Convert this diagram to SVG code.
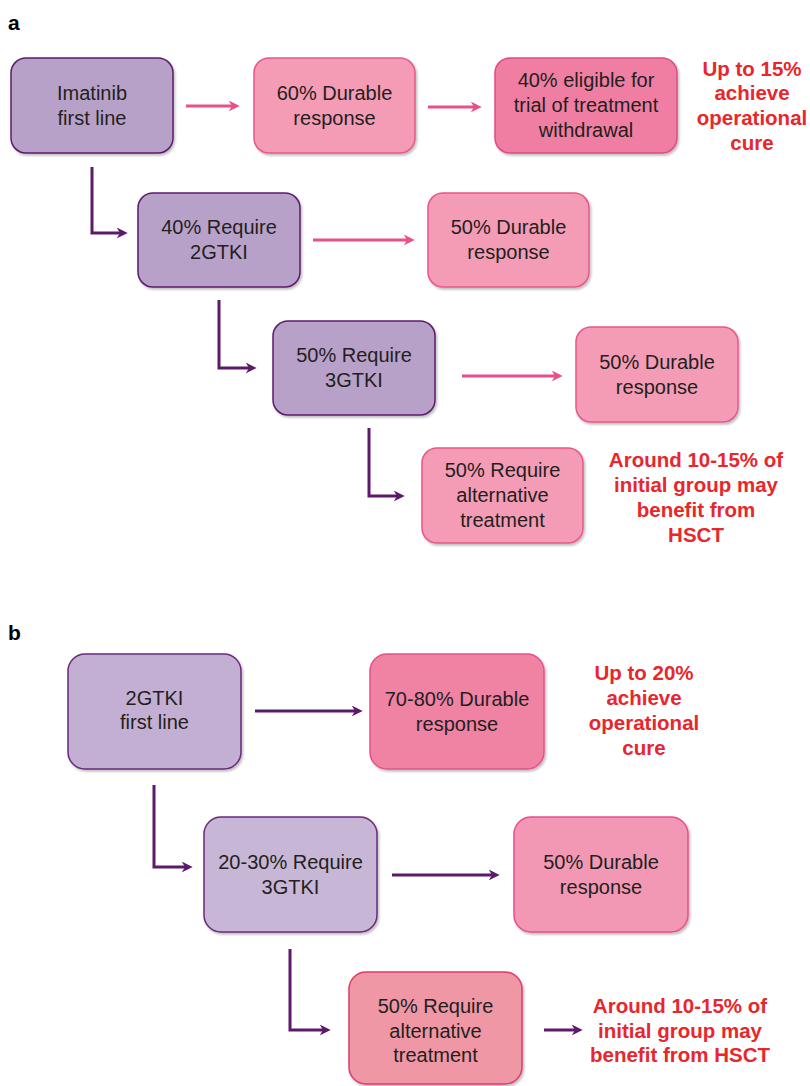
<svg xmlns="http://www.w3.org/2000/svg" width="810" height="1086" viewBox="0 0 810 1086">
<style>
.t{font-family:"Liberation Sans",Arial,sans-serif;font-size:20px;fill:#231f20;text-anchor:middle}
.r{font-family:"Liberation Sans",Arial,sans-serif;font-size:20.5px;font-weight:bold;fill:#e8262b;text-anchor:middle}
.lab{font-family:"Liberation Sans",Arial,sans-serif;font-size:21px;font-weight:bold;fill:#000}
.box{stroke-width:1.5;filter:url(#sh)}
.pa{fill:#b8a1c9;stroke:#5d1a6b}
.pb{fill:#c3afd3;stroke:#6b2a7a}
.pb2{fill:#c7b6d6;stroke:#6b2a7a}
.pk{fill:#f49bb6;stroke:#e8578b}
.dk{fill:#f07ea2;stroke:#e04c80}
.dk2{fill:#f082a4;stroke:#e8508a}
.pk2{fill:#f298b4;stroke:#e8508a}
.sal{fill:#f097a6;stroke:#df3a6e}
.ap{fill:none;stroke:#e8508a;stroke-width:3}
.au{fill:none;stroke:#5d1a6b;stroke-width:3}
</style>
<defs>
<filter id="sh" x="-10%" y="-10%" width="130%" height="130%">
<feDropShadow dx="1.5" dy="2" stdDeviation="1.2" flood-color="#000" flood-opacity="0.25"/>
</filter>
<marker id="mp" viewBox="0 0 10 10" markerWidth="11" markerHeight="11" markerUnits="userSpaceOnUse" refX="3" refY="5" orient="auto">
<path d="M0,0 L10,5 L0,10 L3,5 Z" fill="#e8508a"/>
</marker>
<marker id="mu" viewBox="0 0 10 10" markerWidth="11" markerHeight="11" markerUnits="userSpaceOnUse" refX="3" refY="5" orient="auto">
<path d="M0,0 L10,5 L0,10 L3,5 Z" fill="#5d1a6b"/>
</marker>
</defs>
<rect width="810" height="1086" fill="#fff"/>
<text class="lab" x="8" y="30">a</text>
<text class="lab" x="8" y="640">b</text>

<g id="connectors">
<path class="ap" d="M186,106 H232" marker-end="url(#mp)"/>
<path class="ap" d="M428,107 H474" marker-end="url(#mp)"/>
<path class="ap" d="M313,240 H407" marker-end="url(#mp)"/>
<path class="ap" d="M462,376 H555" marker-end="url(#mp)"/>
<path class="au" d="M92,167 V233 H120" marker-end="url(#mu)"/>
<path class="au" d="M219,300 V368 H249" marker-end="url(#mu)"/>
<path class="au" d="M369,428 V496 H397" marker-end="url(#mu)"/>
<path class="au" d="M255,711 H355" marker-end="url(#mu)"/>
<path class="au" d="M154,785 V867 H185" marker-end="url(#mu)"/>
<path class="au" d="M392,875 H492" marker-end="url(#mu)"/>
<path class="au" d="M290,949 V1030 H323" marker-end="url(#mu)"/>
<path class="au" d="M544,1030 H575" marker-end="url(#mu)"/>
</g>

<g id="a-imatinib">
<rect class="box pa" x="11" y="58" width="162" height="95" rx="15"/>
<text class="t" x="92" y="100">Imatinib</text>
<text class="t" x="92" y="125">first line</text>
</g>
<g id="a-durable60">
<rect class="box pk" x="254" y="58" width="161" height="95" rx="15"/>
<text class="t" x="334.5" y="100">60% Durable</text>
<text class="t" x="334.5" y="125">response</text>
</g>
<g id="a-eligible">
<rect class="box dk" x="495" y="58" width="182" height="95" rx="15"/>
<text class="t" x="586" y="87">40% eligible for</text>
<text class="t" x="586" y="112">trial of treatment</text>
<text class="t" x="586" y="137">withdrawal</text>
</g>
<g id="a-cure">
<text class="r" x="752" y="76">Up to 15%</text>
<text class="r" x="752" y="100">achieve</text>
<text class="r" x="752" y="125">operational</text>
<text class="r" x="752" y="150">cure</text>
</g>
<g id="a-2gtki">
<rect class="box pa" x="138" y="193" width="162" height="94" rx="15"/>
<text class="t" x="219" y="234">40% Require</text>
<text class="t" x="219" y="259">2GTKI</text>
</g>
<g id="a-durable50a">
<rect class="box pk" x="428" y="193" width="161" height="94" rx="15"/>
<text class="t" x="508.5" y="234">50% Durable</text>
<text class="t" x="508.5" y="259">response</text>
</g>
<g id="a-3gtki">
<rect class="box pa" x="273" y="321" width="162" height="94" rx="15"/>
<text class="t" x="354" y="362">50% Require</text>
<text class="t" x="354" y="387">3GTKI</text>
</g>
<g id="a-durable50b">
<rect class="box pk" x="576" y="327" width="162" height="95" rx="15"/>
<text class="t" x="657" y="369">50% Durable</text>
<text class="t" x="657" y="394">response</text>
</g>
<g id="a-alt">
<rect class="box pk" x="422" y="448" width="161" height="95" rx="15"/>
<text class="t" x="502.5" y="477">50% Require</text>
<text class="t" x="502.5" y="502">alternative</text>
<text class="t" x="502.5" y="527">treatment</text>
</g>
<g id="a-hsct">
<text class="r" x="696" y="467">Around 10-15% of</text>
<text class="r" x="696" y="492">initial group may</text>
<text class="r" x="696" y="517">benefit from</text>
<text class="r" x="696" y="542">HSCT</text>
</g>

<g id="b-2gtki">
<rect class="box pb" x="68" y="654" width="173" height="115" rx="17"/>
<text class="t" x="154.5" y="705">2GTKI</text>
<text class="t" x="154.5" y="729">first line</text>
</g>
<g id="b-durable7080">
<rect class="box dk2" x="370" y="654" width="174" height="115" rx="17"/>
<text class="t" x="457" y="706">70-80% Durable</text>
<text class="t" x="457" y="731">response</text>
</g>
<g id="b-cure">
<text class="r" x="644" y="680">Up to 20%</text>
<text class="r" x="644" y="705">achieve</text>
<text class="r" x="644" y="730">operational</text>
<text class="r" x="644" y="755">cure</text>
</g>
<g id="b-3gtki">
<rect class="box pb2" x="204" y="817" width="173" height="115" rx="17"/>
<text class="t" x="290.5" y="869">20-30% Require</text>
<text class="t" x="290.5" y="894">3GTKI</text>
</g>
<g id="b-durable50">
<rect class="box pk2" x="514" y="817" width="174" height="115" rx="17"/>
<text class="t" x="601" y="869">50% Durable</text>
<text class="t" x="601" y="894">response</text>
</g>
<g id="b-alt">
<rect class="box sal" x="349" y="972" width="173" height="112" rx="17"/>
<text class="t" x="435.5" y="1013">50% Require</text>
<text class="t" x="435.5" y="1038">alternative</text>
<text class="t" x="435.5" y="1062">treatment</text>
</g>
<g id="b-hsct">
<text class="r" x="680" y="1013">Around 10-15% of</text>
<text class="r" x="680" y="1038">initial group may</text>
<text class="r" x="680" y="1062">benefit from HSCT</text>
</g>
</svg>
